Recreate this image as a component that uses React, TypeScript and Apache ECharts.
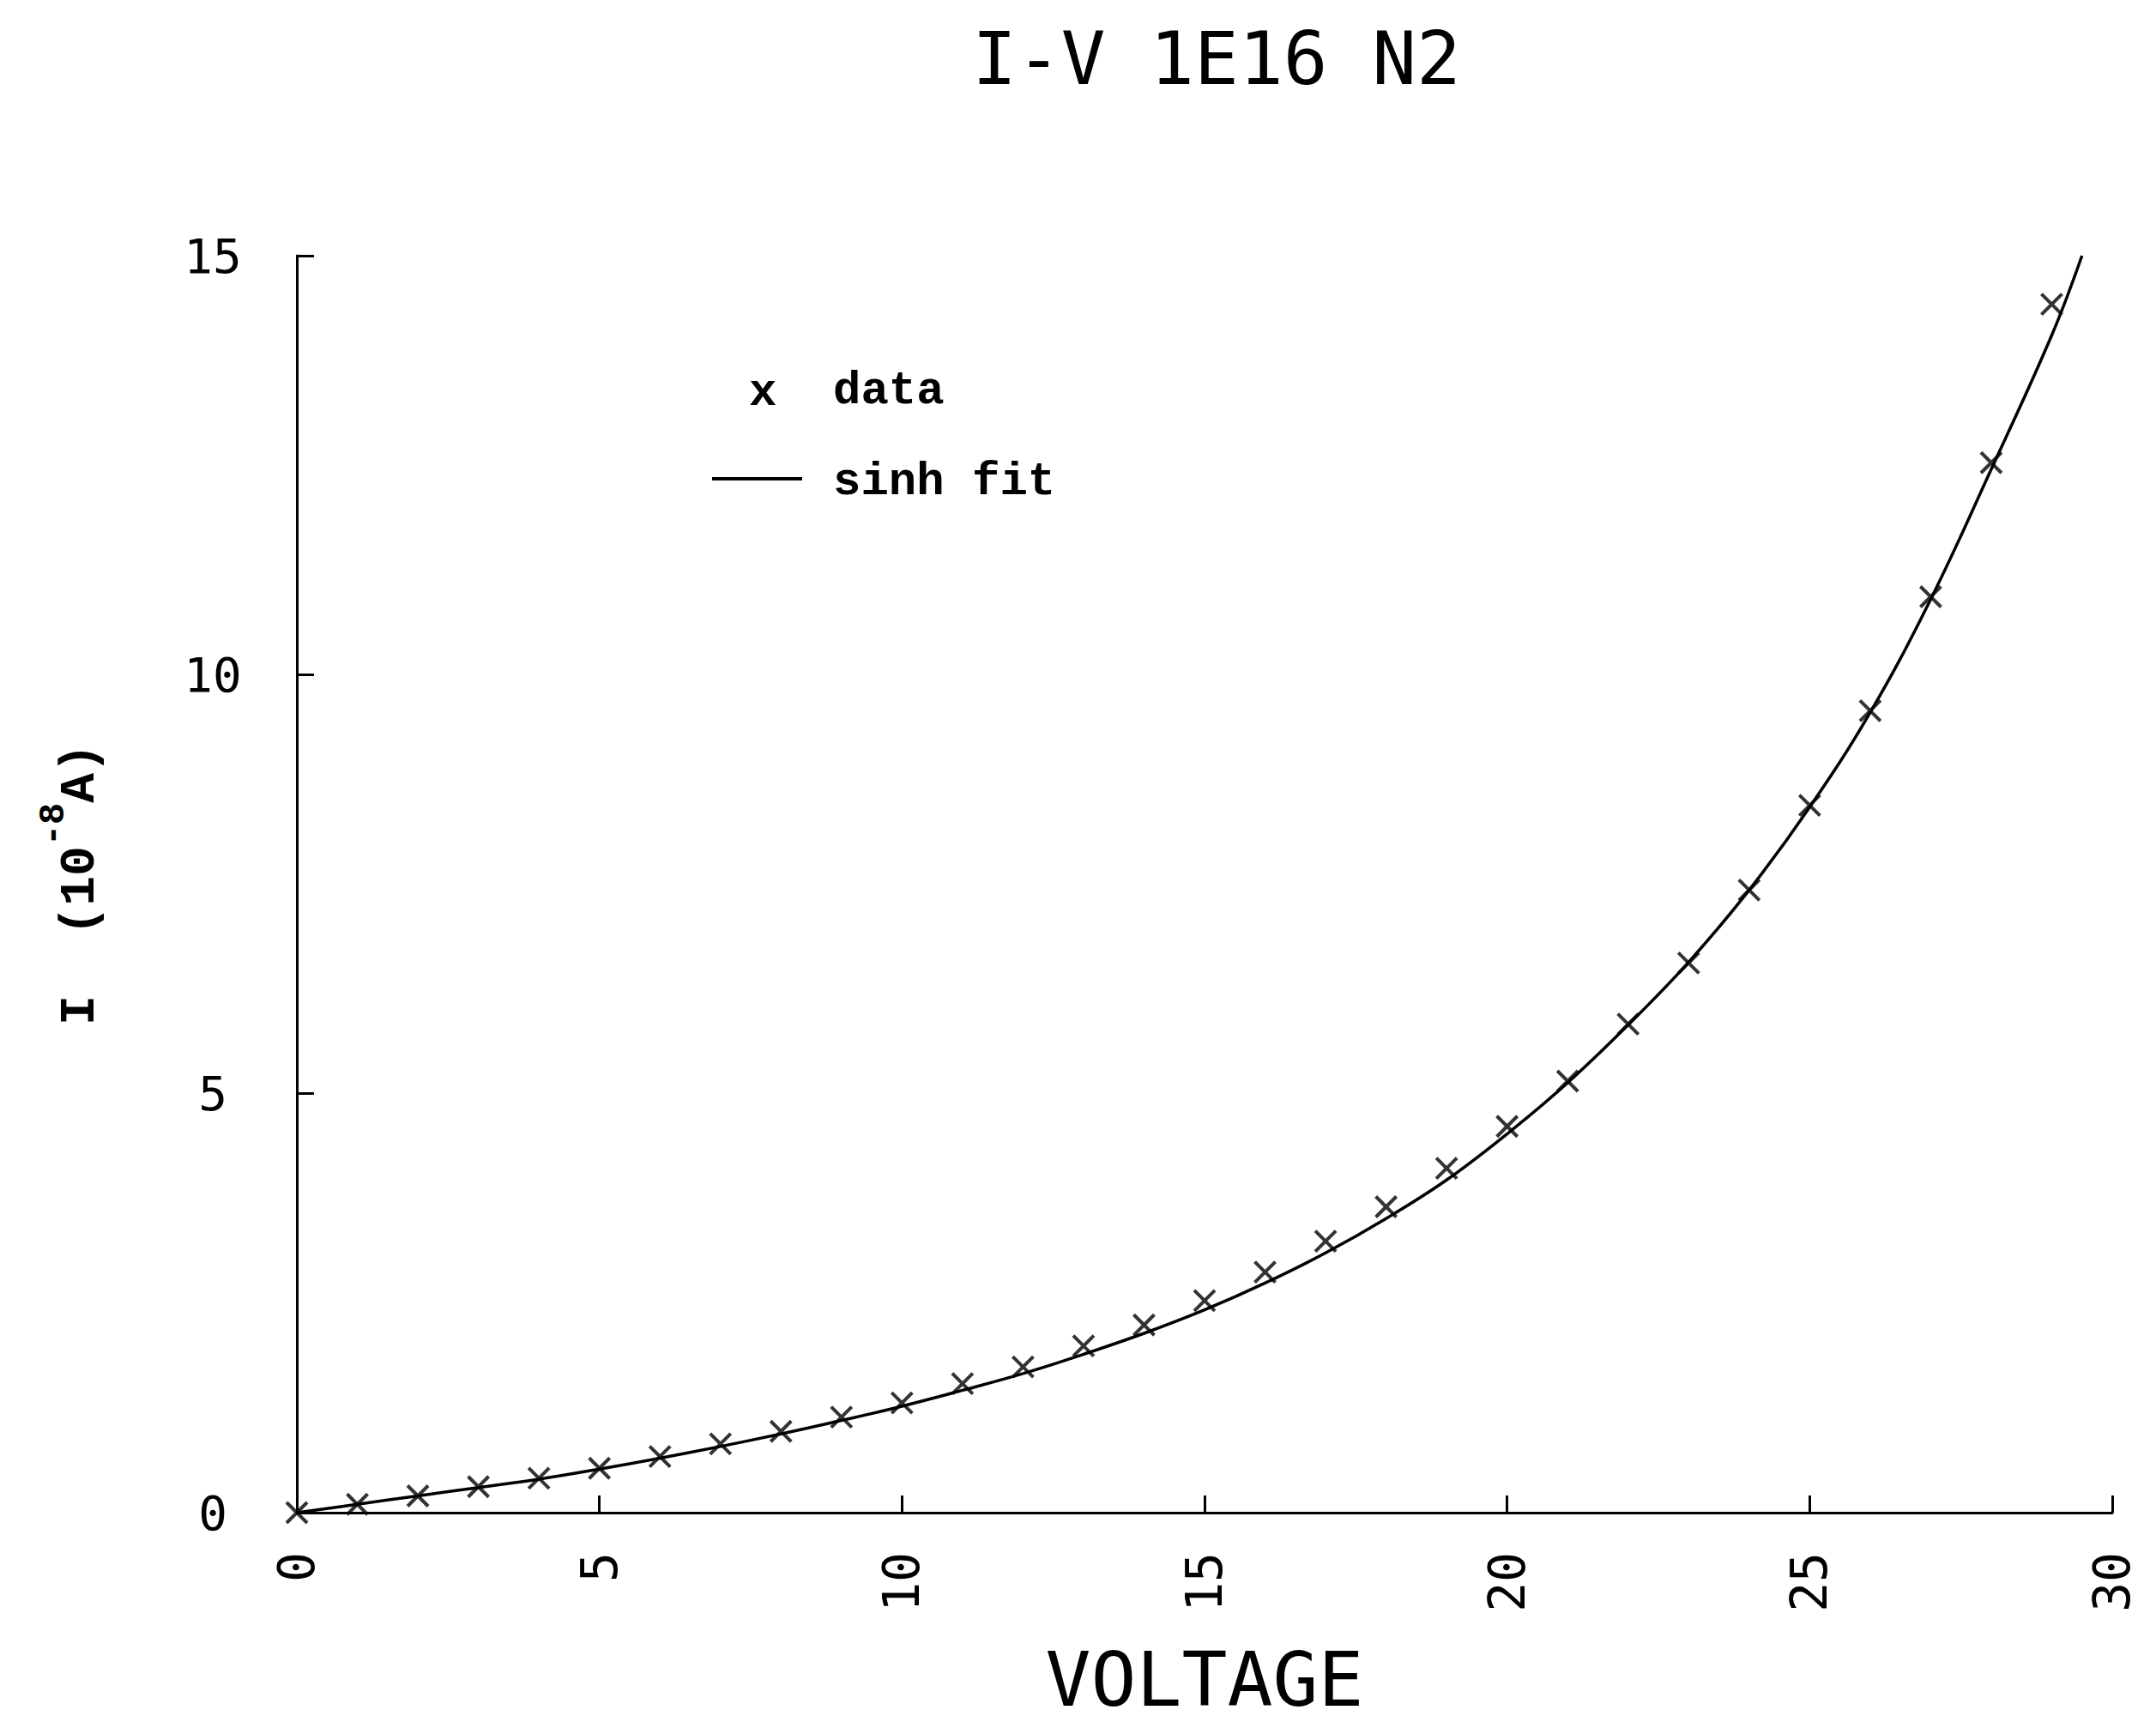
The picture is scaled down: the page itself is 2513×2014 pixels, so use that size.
import React, { useEffect, useRef } from "react";
import * as echarts from "echarts";

// Measured points: voltage (V) and current (10^-8 A)
const voltage = [0, 1, 2, 3, 4, 5, 6, 7, 8, 9, 10, 11, 12, 13, 14, 15, 16, 17, 18, 19, 20, 21, 22, 23, 24, 25, 26, 27, 28, 29];
const current = [0, 0.1, 0.2, 0.31, 0.41, 0.53, 0.67, 0.82, 0.97, 1.14, 1.31, 1.54, 1.74, 1.99, 2.24, 2.53, 2.87, 3.24, 3.65, 4.11, 4.61, 5.15, 5.83, 6.56, 7.43, 8.44, 9.57, 10.93, 12.53, 14.42];

// sinh fit curve
const fitVoltage = [0, 1, 2, 3, 4, 5, 6, 7, 8, 9, 10, 11, 12, 13, 14, 15, 16, 17, 18, 19, 20, 21, 22, 23, 24, 25, 26, 27, 28, 29, 29.5];
const fitCurrent = [0, 0.1, 0.2, 0.3, 0.4, 0.52, 0.65, 0.79, 0.94, 1.1, 1.27, 1.46, 1.66, 1.89, 2.14, 2.42, 2.74, 3.1, 3.51, 3.97, 4.52, 5.13, 5.82, 6.57, 7.43, 8.42, 9.55, 10.9, 12.45, 14.05, 15.0];

const xRange = [0, 30];
const yRange = [0, 15];
const tickStep = 5;

const titleText = "I-V 1E16 N2";
const xName = "VOLTAGE";
const legendLabels = ["data", "sinh fit"];

const plotFont = "DejaVu Sans Mono";
const typeFont = "Liberation Mono";

export default function App() {
  const ref = useRef<HTMLDivElement>(null);

  useEffect(() => {
    if (!ref.current) return;
    const chart = echarts.init(ref.current, null, { renderer: "svg" });
    const option = {
      animation: false,
      backgroundColor: "#ffffff",
      title: {
        text: titleText,
        left: 1413,
        top: 63,
        textAlign: "center",
        textVerticalAlign: "middle",
        textStyle: { fontFamily: plotFont, fontSize: 86, fontWeight: "normal", color: "#000" },
      },
      grid: { left: 346, right: 51, top: 298, bottom: 251, containLabel: false },
      xAxis: {
        type: "value",
        min: xRange[0],
        max: xRange[1],
        interval: tickStep,
        name: xName,
        nameLocation: "middle",
        nameGap: 150,
        nameTextStyle: { fontFamily: plotFont, fontSize: 88, color: "#000" },
        axisLine: { show: true, onZero: false, lineStyle: { color: "#000", width: 3 } },
        axisTick: { show: true, inside: true, length: 20, lineStyle: { color: "#000", width: 3 } },
        axisLabel: { rotate: 90, margin: 46, fontFamily: plotFont, fontSize: 58, color: "#000" },
        splitLine: { show: false },
      },
      yAxis: {
        type: "value",
        min: yRange[0],
        max: yRange[1],
        interval: tickStep,
        name: "{a|I\u00a0\u00a0(10}{s|-8}{a|A)}",
        nameLocation: "middle",
        nameRotate: 90,
        nameGap: 224,
        nameTextStyle: {
          color: "#000",
          rich: {
            a: { fontFamily: typeFont, fontSize: 58, fontWeight: "bold", lineHeight: 80, verticalAlign: "bottom", color: "#000" },
            s: { fontFamily: typeFont, fontSize: 42, fontWeight: "bold", lineHeight: 40, verticalAlign: "top", color: "#000" },
          },
        },
        axisLine: { show: true, onZero: false, lineStyle: { color: "#000", width: 3 } },
        axisTick: { show: true, inside: true, length: 20, lineStyle: { color: "#000", width: 3 } },
        axisLabel: { align: "center", margin: 98, fontFamily: plotFont, fontSize: 56, color: "#000" },
        splitLine: { show: false },
      },
      series: [
        {
          name: legendLabels[1],
          type: "line",
          data: fitVoltage.map((v, i) => [v, fitCurrent[i]]),
          smooth: 0.4,
          showSymbol: false,
          symbol: "none",
          lineStyle: { color: "#000", width: 3.5 },
          z: 2,
        },
        {
          name: legendLabels[0],
          type: "scatter",
          data: voltage.map((v, i) => [v, current[i]]),
          symbol: "path://M0 0L10 10M10 0L0 10",
          symbolSize: 24,
          itemStyle: { color: "rgba(0,0,0,0)", borderColor: "#000", borderWidth: 4 },
          z: 3,
        },
      ],
      graphic: [
        {
          type: "text",
          left: 873,
          top: 430,
          style: { text: "x", font: `bold 54px '${typeFont}'`, fill: "#000" },
        },
        {
          type: "text",
          left: 971,
          top: 428,
          style: { text: legendLabels[0], font: `bold 54px '${typeFont}'`, fill: "#000" },
        },
        {
          type: "line",
          shape: { x1: 830, y1: 558, x2: 935, y2: 558 },
          style: { stroke: "#000", lineWidth: 4 },
        },
        {
          type: "text",
          left: 971,
          top: 534,
          style: { text: legendLabels[1], font: `bold 54px '${typeFont}'`, fill: "#000" },
        },
      ],
    };
    chart.setOption(option as any);
    return () => chart.dispose();
  }, []);

  return (
    <div
      ref={ref}
      style={{ position: "absolute", left: 0, top: 0, width: 2513, height: 2014, background: "#fff" }}
    />
  );
}
